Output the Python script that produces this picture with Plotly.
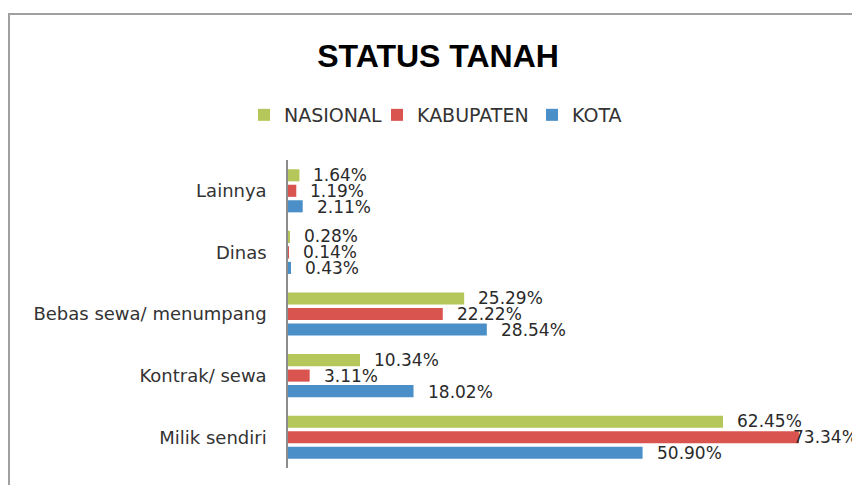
import plotly.graph_objects as go

categories = ["Milik sendiri", "Kontrak/ sewa", "Bebas sewa/ menumpang", "Dinas", "Lainnya"]
nasional = [62.45, 10.34, 25.29, 0.28, 1.64]
kabupaten = [73.34, 3.11, 22.22, 0.14, 1.19]
kota = [50.90, 18.02, 28.54, 0.43, 2.11]

# name, values, colour, label y-shift (px), legend id, legend item left (window px)
series = [
    ("KOTA", kota, "#4a8fc7", -16, "legend3", 532),
    ("KABUPATEN", kabupaten, "#d9534f", 0, "legend2", 377),
    ("NASIONAL", nasional, "#b5c65a", 16, "legend", 244),
]

label_font = dict(family="DejaVu Sans", size=17, color="#2a2a2a")
legend_font = dict(family="DejaVu Sans", size=19, color="#333333")

# page has an 8px body margin: figure occupies window pixels 8..860 / 8..485
OFF = 8
W, H = 860 - OFF, 485 - OFF
L, R, T, B = 288 - OFF, 0, 160 - OFF, H - (468 - OFF)
pw, ph = W - L - R, H - T - B
PX_PER_UNIT = 6.966
XMAX = pw / PX_PER_UNIT

def px(xw):
    return (xw - OFF - L) / pw

def py(yw):
    return (H - B - (yw - OFF)) / ph

fig = go.Figure()
annotations = []
legends = {}
for name, vals, color, shift, leg, legx in series:
    fig.add_trace(go.Bar(
        y=categories, x=vals, name=name, orientation="h", legend=leg,
        marker=dict(color=color, line=dict(width=0)),
        hoverinfo="x+name",
    ))
    legends[leg] = dict(orientation="h", x=px(legx), xref="paper", xanchor="left",
                        y=py(115), yanchor="middle", font=legend_font,
                        itemsizing="constant", bgcolor="rgba(0,0,0,0)", borderwidth=0)
    for c, v in zip(categories, vals):
        end_px = v * PX_PER_UNIT
        xs = 12
        if end_px + xs + 70 > pw:
            xs = int(pw - 70 - end_px)
        annotations.append(dict(
            x=v, y=c, xref="x", yref="y", text=f"{v:.2f}%",
            showarrow=False, xanchor="left", yanchor="middle",
            xshift=xs, yshift=shift, font=label_font,
        ))

fig.update_layout(
    width=W, height=H,
    margin=dict(l=L, r=R, t=T, b=B, autoexpand=False),
    paper_bgcolor="white", plot_bgcolor="white",
    barmode="group", bargap=0.245, bargroupgap=0.22,
    title=dict(text="<b>STATUS TANAH</b>", x=px(438), xref="paper", xanchor="center",
               y=1 - (56 - OFF) / H, yanchor="middle",
               font=dict(family="Liberation Sans", size=32, color="#000000")),
    xaxis=dict(range=[0, XMAX], visible=False, showgrid=False, zeroline=False, fixedrange=True),
    yaxis=dict(categoryorder="array", categoryarray=categories, showline=True,
               linecolor="#8c8c8c", linewidth=1.5, showgrid=False, ticks="",
               ticklabelstandoff=16, tickfont=dict(family="DejaVu Sans", size=18, color="#333333")),
    annotations=annotations,
    shapes=[dict(type="rect", xref="paper", yref="paper",
                 x0=px(9), x1=px(900), y0=py(520), y1=py(14),
                 line=dict(color="#a0a0a0", width=2), layer="below")],
    showlegend=True,
    **legends,
)

fig.write_html("out.html")
